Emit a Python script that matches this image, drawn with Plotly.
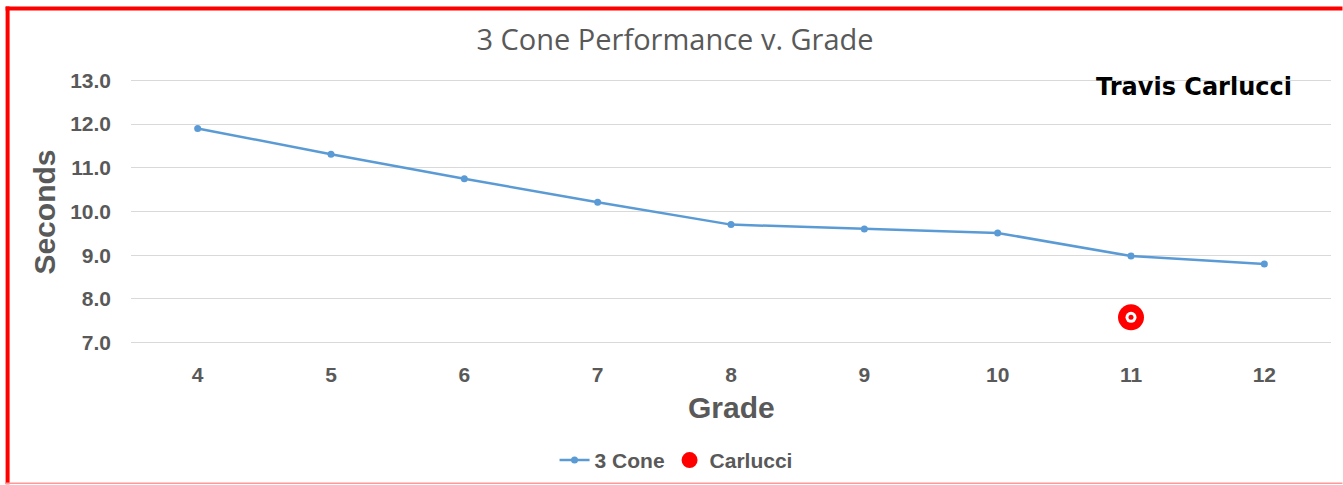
import plotly.graph_objects as go

grades = ["4", "5", "6", "7", "8", "9", "10", "11", "12"]
cone_seconds = [11.90, 11.31, 10.75, 10.21, 9.70, 9.60, 9.51, 8.98, 8.80]
carlucci_grade = ["11"]
carlucci_seconds = [7.58]
y_ticks = [7, 8, 9, 10, 11, 12, 13]

W, H = 1343, 485
PAD = 0.03
unit = 263 / 6.0
L, R = 130.5, 11.5
T, B = 80 - PAD * unit, 142 - PAD * unit
pw, ph = W - L - R, H - T - B

def px_x(x):
    return (x - L) / pw

def px_y(y):
    return (H - B - y) / ph

GRAY = "#595959"
BOLD = dict(family="Liberation Sans, Arial", weight="bold", color=GRAY)

fig = go.Figure()
fig.add_trace(go.Scatter(
    x=grades, y=cone_seconds, mode="lines+markers", name="3 Cone",
    line=dict(color="#5b9bd5", width=2.5),
    marker=dict(color="#5b9bd5", size=7),
))
fig.add_trace(go.Scatter(
    x=carlucci_grade, y=carlucci_seconds, mode="markers", name="Carlucci",
    marker=dict(color="#ff0000", size=26, line=dict(width=0)),
))
fig.add_trace(go.Scatter(
    x=carlucci_grade, y=carlucci_seconds, mode="markers", showlegend=False,
    marker=dict(color="#ffffff", size=11, line=dict(width=0)), hoverinfo="skip",
))
fig.add_trace(go.Scatter(
    x=carlucci_grade, y=carlucci_seconds, mode="markers", showlegend=False,
    marker=dict(color="#ff0000", size=5, line=dict(width=0)), hoverinfo="skip",
))

fig.update_layout(
    width=W, height=H,
    margin=dict(l=L, r=R, t=T, b=B, autoexpand=False),
    paper_bgcolor="white", plot_bgcolor="white",
    title=dict(text="3 Cone Performance v. Grade", x=675 / W,
               xanchor="center", y=1 - 40 / H, yanchor="middle",
               font=dict(family="Open Sans", size=29, color=GRAY)),
    xaxis=dict(type="category", categoryorder="array", categoryarray=grades,
               range=[-0.5, 8.5], showgrid=False, showline=False, zeroline=False,
               ticks="", ticklabelstandoff=16,
               tickfont=dict(size=21, **BOLD)),
    yaxis=dict(range=[7 - PAD, 13 + PAD], tickvals=y_ticks, tickformat=".1f",
               showgrid=True, gridcolor="#d9d9d9", gridwidth=1,
               zeroline=False, showline=False, ticks="", ticklabelstandoff=19,
               tickfont=dict(size=21, **BOLD)),
    showlegend=True,
    legend=dict(orientation="h", x=px_x(676), xanchor="center",
                y=px_y(461), yanchor="middle",
                font=dict(size=21, **BOLD), itemwidth=30, tracegroupgap=0),
    annotations=[
        dict(text="Grade", xref="paper", yref="paper", x=px_x(731), y=px_y(408),
             xanchor="center", yanchor="middle", showarrow=False,
             font=dict(size=30, **BOLD)),
        dict(text="Seconds", xref="paper", yref="paper", x=px_x(44), y=px_y(212),
             xanchor="center", yanchor="middle", showarrow=False, textangle=-90,
             font=dict(size=30, **BOLD)),
        dict(text="Travis Carlucci", xref="paper", yref="paper", x=px_x(1194), y=px_y(87),
             xanchor="center", yanchor="middle", showarrow=False,
             font=dict(family="DejaVu Sans", weight="bold", size=24, color="black")),
    ],
    shapes=[
        dict(type="line", xref="paper", yref="paper", x0=px_x(5), x1=px_x(1343),
             y0=px_y(8), y1=px_y(8), line=dict(color="#ff0000", width=4)),
        dict(type="line", xref="paper", yref="paper", x0=px_x(7), x1=px_x(7),
             y0=px_y(6), y1=px_y(485), line=dict(color="#ff0000", width=4)),
        dict(type="line", xref="paper", yref="paper", x0=px_x(5), x1=px_x(1343),
             y0=px_y(484), y1=px_y(484), line=dict(color="#ff9999", width=1.5)),
    ],
)

fig.write_html("out.html", config={"displayModeBar": False},
               post_script="document.body.style.margin='0';")
